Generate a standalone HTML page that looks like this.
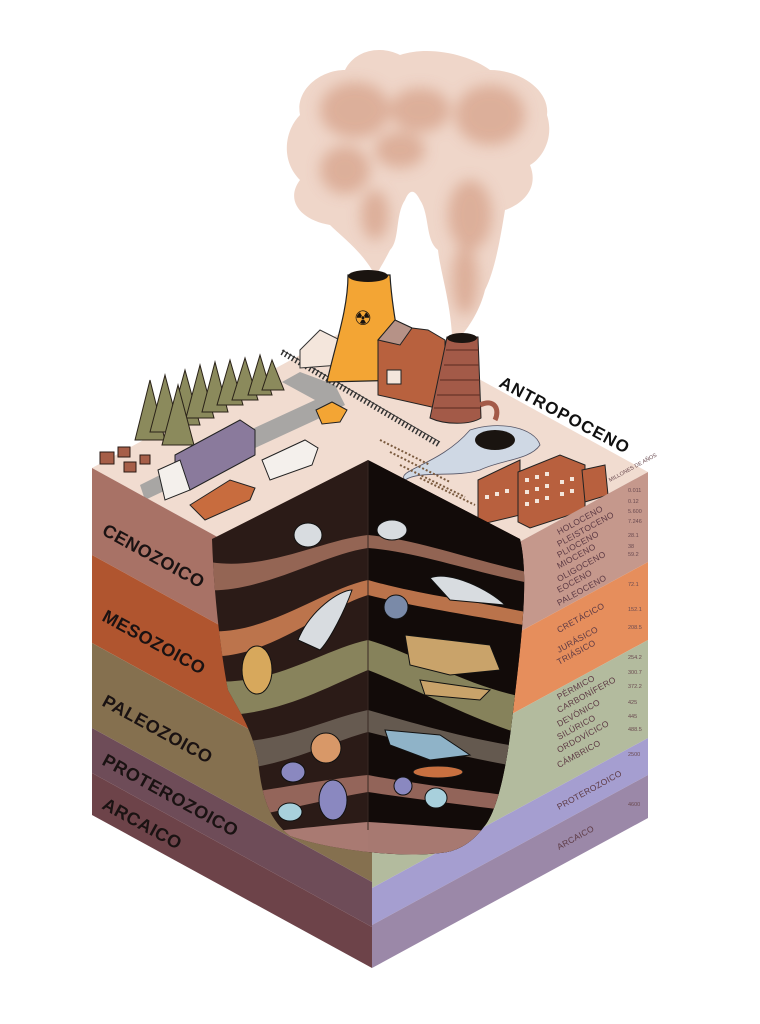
<!DOCTYPE html>
<html><head><meta charset="utf-8"><style>
html,body{margin:0;padding:0;background:#fff}
svg{display:block}
text{font-family:"Liberation Sans",sans-serif}
.L{font-weight:bold;font-size:18px;fill:#1a1212;letter-spacing:0.5px}
.R{font-size:8.5px;fill:#5d3a44;letter-spacing:0.3px}
.N{font-size:5.5px;fill:#6a4a50}
</style></head><body>
<svg width="760" height="1024" viewBox="0 0 760 1024" xmlns="http://www.w3.org/2000/svg">
<defs>
<clipPath id="hole"><path d="M212,539 L368,460 L520,539 C530,580 520,650 512,720 C505,780 495,815 483,828 C470,845 455,852 440,853 C400,858 330,850 290,836 C270,820 262,800 258,760 C252,730 240,712 228,690 C222,660 214,600 212,539 Z"/></clipPath>
<clipPath id="smk"><path d="M372,270 C360,250 340,235 330,225 C300,220 285,200 300,180 C280,160 285,130 300,115 C295,90 320,70 345,70 C355,50 380,45 400,55 C430,45 470,55 490,70 C520,70 550,90 547,115 C555,140 540,160 530,165 C540,190 520,205 505,210 C500,240 495,270 485,290 C480,310 470,325 462,335 L452,335 C450,300 440,270 438,250 C425,240 430,215 420,200 C415,190 410,188 405,200 C395,215 400,240 390,250 C385,260 380,268 378,272 Z"/></clipPath>
<filter id="bl" x="-20%" y="-20%" width="140%" height="140%"><feGaussianBlur stdDeviation="7"/></filter>
</defs>

<!-- smoke -->
<path d="M372,270 C360,250 340,235 330,225 C300,220 285,200 300,180 C280,160 285,130 300,115 C295,90 320,70 345,70 C355,50 380,45 400,55 C430,45 470,55 490,70 C520,70 550,90 547,115 C555,140 540,160 530,165 C540,190 520,205 505,210 C500,240 495,270 485,290 C480,310 470,325 462,335 L452,335 C450,300 440,270 438,250 C425,240 430,215 420,200 C415,190 410,188 405,200 C395,215 400,240 390,250 C385,260 380,268 378,272 Z" fill="#efd6c9"/>
<g clip-path="url(#smk)">
<g fill="#d9a892" filter="url(#bl)" opacity="0.85">
<ellipse cx="355" cy="110" rx="35" ry="28"/><ellipse cx="420" cy="110" rx="30" ry="22"/>
<ellipse cx="490" cy="115" rx="35" ry="30"/><ellipse cx="345" cy="170" rx="25" ry="24"/>
<ellipse cx="470" cy="215" rx="22" ry="35"/><ellipse cx="465" cy="280" rx="13" ry="35"/>
<ellipse cx="375" cy="215" rx="14" ry="25"/><ellipse cx="400" cy="150" rx="25" ry="18"/>
</g></g>

<!-- top face -->
<polygon points="92,468 368,318 648,472 372,622" fill="#f1dcd0"/>
<!-- road -->
<path d="M145,500 L255,448 L320,418 L345,405 L335,385 L300,372 L282,382 L315,400 L250,430 L140,485 Z" fill="#a8a6a4"/>
<path d="M150,510 L270,450 L350,410" stroke="#f1dcd0" stroke-width="2" fill="none" stroke-dasharray="6 8"/>
<!-- trees -->
<g fill="#8b8a5c" stroke="#2a2218" stroke-width="1">
<polygon points="150,380 135,440 165,440"/><polygon points="165,375 150,432 180,432"/>
<polygon points="185,370 170,425 200,425"/><polygon points="200,365 186,418 214,418"/>
<polygon points="215,362 202,412 228,412"/><polygon points="230,360 217,405 243,405"/>
<polygon points="245,358 232,400 258,400"/><polygon points="260,355 248,395 272,395"/>
<polygon points="272,360 262,390 284,390"/><polygon points="178,385 162,445 194,445"/>
</g>
<g fill="#a65e48" stroke="#2a1a14" stroke-width="1">
<rect x="100" y="452" width="14" height="12"/><rect x="118" y="447" width="12" height="10"/><rect x="124" y="462" width="12" height="10"/><rect x="140" y="455" width="10" height="9"/>
</g>
<!-- truck -->
<polygon points="175,455 240,420 255,430 255,455 190,490 175,480" fill="#8a7a9c" stroke="#222" stroke-width="1"/>
<polygon points="158,470 180,460 190,490 165,500" fill="#f4f0ec" stroke="#222" stroke-width="1"/>
<!-- cars -->
<polygon points="190,505 230,480 255,488 250,500 205,520" fill="#c86c3e" stroke="#222" stroke-width="1"/>
<polygon points="262,460 305,440 318,448 312,465 270,480" fill="#f4f0ec" stroke="#222" stroke-width="1"/>
<polygon points="316,410 332,402 347,410 340,422 322,424" fill="#f3a534" stroke="#222" stroke-width="1"/>
<!-- fence -->
<path d="M282,352 L440,445" stroke="#333" stroke-width="6" stroke-dasharray="1.5 2.5" fill="none"/>
<path d="M282,350 L440,442" stroke="#333" stroke-width="1" fill="none"/>
<!-- house -->
<polygon points="300,350 320,330 340,340 340,365 300,368" fill="#f4e6dc" stroke="#333"/>
<!-- cooling tower -->
<path d="M348,275 L390,275 C392,310 400,345 405,380 L327,382 C335,345 348,310 348,275 Z" fill="#f3a534" stroke="#222" stroke-width="1.2"/>
<ellipse cx="368" cy="276" rx="20" ry="6" fill="#1a1410"/>
<text x="354" y="325" font-size="20" fill="#1a1410">☢</text>
<!-- factory -->
<polygon points="378,340 395,320 412,328 428,330 445,340 445,410 378,395" fill="#b8613e" stroke="#222"/>
<polygon points="378,340 395,320 412,328 400,345" fill="#b69287" stroke="#222"/>
<rect x="387" y="370" width="14" height="14" fill="#f4e6dc" stroke="#222"/>
<!-- chimney -->
<path d="M447,337 L478,337 L481,418 C470,425 445,425 430,418 Z" fill="#a35a48" stroke="#222"/>
<ellipse cx="462" cy="338" rx="15" ry="5" fill="#1a1410"/>
<g stroke="#5a2a20" stroke-width="1"><line x1="446" y1="350" x2="479" y2="350"/><line x1="444" y1="365" x2="479" y2="365"/><line x1="440" y1="380" x2="480" y2="380"/><line x1="437" y1="395" x2="480" y2="395"/><line x1="434" y1="408" x2="481" y2="408"/></g>
<path d="M480,405 C495,398 500,410 495,420" stroke="#a35a48" stroke-width="5" fill="none"/>
<!-- pond -->
<path d="M470,430 C500,420 535,428 540,445 C530,460 500,460 480,470 C455,478 420,470 405,480 C395,470 440,465 470,430Z" fill="#cfd8e4" stroke="#556" stroke-width="0.8"/>
<ellipse cx="495" cy="440" rx="20" ry="10" fill="#1a1410"/>
<!-- fields -->
<g stroke="#7a5a3e" stroke-width="2" stroke-dasharray="2 2"><line x1="380" y1="440" x2="430" y2="465"/><line x1="390" y1="452" x2="450" y2="482"/><line x1="400" y1="465" x2="465" y2="497"/><line x1="420" y1="478" x2="475" y2="505"/></g>
<!-- buildings -->
<polygon points="478,480 520,460 520,515 478,525" fill="#b8603e" stroke="#222"/>
<polygon points="518,472 560,455 585,465 585,510 530,528 518,522" fill="#b8603e" stroke="#222"/>
<polygon points="582,470 605,465 608,495 585,502" fill="#b8603e" stroke="#222"/>
<g fill="#f4e6dc"><rect x="525" y="478" width="4" height="4"/><rect x="535" y="475" width="4" height="4"/><rect x="545" y="472" width="4" height="4"/><rect x="525" y="490" width="4" height="4"/><rect x="535" y="487" width="4" height="4"/><rect x="545" y="484" width="4" height="4"/><rect x="525" y="502" width="4" height="4"/><rect x="535" y="499" width="4" height="4"/><rect x="545" y="496" width="4" height="4"/><rect x="560" y="480" width="4" height="4"/><rect x="570" y="477" width="4" height="4"/><rect x="560" y="492" width="4" height="4"/><rect x="570" y="489" width="4" height="4"/><rect x="485" y="495" width="4" height="4"/><rect x="495" y="492" width="4" height="4"/><rect x="505" y="489" width="4" height="4"/></g>
<text x="498" y="386" transform="rotate(28 498 386)" font-weight="bold" font-size="17" fill="#111" letter-spacing="1">ANTROPOCENO</text>

<!-- left face -->
<polygon points="92,468 372,622 372,709 92,555" fill="#a87266"/>
<polygon points="92,555 372,709 372,797 92,643" fill="#b0552f"/>
<polygon points="92,643 372,797 372,882 92,728" fill="#85704f"/>
<polygon points="92,728 372,882 372,927 92,773" fill="#6e4c58"/>
<polygon points="92,773 372,927 372,968 92,815" fill="#6d4349"/>
<!-- right face -->
<polygon points="372,622 648,472 648,562 372,712" fill="#c5988c"/>
<polygon points="372,712 648,562 648,640 372,790" fill="#e68e5c"/>
<polygon points="372,790 648,640 648,738 372,888" fill="#b3bb9e"/>
<polygon points="372,888 648,738 648,775 372,925" fill="#a59ed0"/>
<polygon points="372,925 648,775 648,818 372,968" fill="#9b88a8"/>

<!-- hole -->
<g clip-path="url(#hole)">
<rect x="200" y="450" width="340" height="420" fill="#2b1b17"/>
<polygon points="368,460 540,540 540,870 368,870" fill="#120b09"/>
<g opacity="0.95">
<path d="M200,560 C260,575 320,540 368,535 C420,540 470,560 540,575 L540,585 C470,572 420,552 368,548 C320,555 260,595 200,590Z" fill="#9a6a58"/>
<path d="M200,630 C260,640 320,590 368,580 C420,595 470,600 540,615 L540,628 C470,615 420,608 368,595 C320,610 260,665 200,655Z" fill="#c57a50"/>
<path d="M200,680 C270,690 320,650 368,640 C420,655 470,690 540,700 L540,740 C470,720 420,690 368,670 C320,690 270,720 200,715Z" fill="#8e8a60"/>
<path d="M200,740 C270,750 320,720 368,710 C420,725 470,740 540,750 L540,770 C470,760 420,745 368,732 C320,745 270,775 200,770Z" fill="#6a5e54"/>
<path d="M200,800 C270,790 320,780 368,775 C420,785 470,790 540,800 L540,815 C470,805 420,800 368,792 C320,800 270,815 200,825Z" fill="#9a6a5e"/>
<path d="M200,840 C280,830 330,825 368,822 C420,825 470,830 540,835 L540,870 L200,870Z" fill="#b08078"/>
</g>
<line x1="368" y1="460" x2="368" y2="830" stroke="#3a2a24" stroke-width="1"/>
<g fill="#d8dce0" stroke="#111" stroke-width="1">
<ellipse cx="308" cy="535" rx="14" ry="12"/><ellipse cx="392" cy="530" rx="15" ry="10"/>
<path d="M430,578 C450,570 490,590 505,605 L450,600 Z"/>
<path d="M298,640 C310,610 340,590 352,590 C345,610 330,640 320,650 Z"/>
<path d="M385,730 L440,735 L470,755 L430,760 L390,745Z" fill="#8fb3c8"/>
</g>
<path d="M405,635 L490,645 L500,670 L450,675 L410,665Z" fill="#c9a36a" stroke="#111"/>
<path d="M420,680 L490,690 L480,700 L425,695Z" fill="#c9a36a" stroke="#111"/>
<ellipse cx="257" cy="670" rx="15" ry="24" fill="#d7a85c" stroke="#111"/>
<circle cx="396" cy="607" r="12" fill="#7a8aa8" stroke="#111"/>
<circle cx="326" cy="748" r="15" fill="#d89868" stroke="#111"/>
<ellipse cx="333" cy="800" rx="14" ry="20" fill="#8a88c0" stroke="#111"/>
<ellipse cx="293" cy="772" rx="12" ry="10" fill="#8a88c0" stroke="#111"/>
<ellipse cx="290" cy="812" rx="12" ry="9" fill="#a8d0dc" stroke="#111"/>
<ellipse cx="436" cy="798" rx="11" ry="10" fill="#a8d0dc" stroke="#111"/>
<ellipse cx="438" cy="772" rx="25" ry="6" fill="#c87040" stroke="#111"/>
<circle cx="403" cy="786" r="9" fill="#8a88c0" stroke="#111"/>
</g>

<!-- left labels -->
<text class="L" x="101" y="534" transform="rotate(28.8 101 534)">CENOZOICO</text>
<text class="L" x="101" y="620" transform="rotate(28.8 101 620)">MESOZOICO</text>
<text class="L" x="101" y="705" transform="rotate(28.8 101 705)">PALEOZOICO</text>
<text class="L" x="101" y="764" transform="rotate(28.8 101 764)">PROTEROZOICO</text>
<text class="L" x="101" y="808" transform="rotate(28.8 101 808)">ARCAICO</text>

<!-- right labels -->
<g class="R">
<text x="559" y="535" transform="rotate(-28.8 559 535)">HOLOCENO</text>
<text x="559" y="547" transform="rotate(-28.8 559 547)">PLEISTOCENO</text>
<text x="559" y="558" transform="rotate(-28.8 559 558)">PLIOCENO</text>
<text x="559" y="569" transform="rotate(-28.8 559 569)">MIOCENO</text>
<text x="559" y="582" transform="rotate(-28.8 559 582)">OLIGOCENO</text>
<text x="559" y="593" transform="rotate(-28.8 559 593)">EOCENO</text>
<text x="559" y="606" transform="rotate(-28.8 559 606)">PALEOCENO</text>
<text x="559" y="633" transform="rotate(-28.8 559 633)">CRETÁCICO</text>
<text x="559" y="653" transform="rotate(-28.8 559 653)">JURÁSICO</text>
<text x="559" y="665" transform="rotate(-28.8 559 665)">TRIÁSICO</text>
<text x="559" y="700" transform="rotate(-28.8 559 700)">PÉRMICO</text>
<text x="559" y="713" transform="rotate(-28.8 559 713)">CARBONÍFERO</text>
<text x="559" y="727" transform="rotate(-28.8 559 727)">DEVÓNICO</text>
<text x="559" y="740" transform="rotate(-28.8 559 740)">SILÚRICO</text>
<text x="559" y="753" transform="rotate(-28.8 559 753)">ORDOVÍCICO</text>
<text x="559" y="768" transform="rotate(-28.8 559 768)">CÁMBRICO</text>
<text x="559" y="810" transform="rotate(-28.8 559 810)">PROTEROZOICO</text>
<text x="559" y="850" transform="rotate(-28.8 559 850)">ARCAICO</text>
</g>
<g class="N">
<text x="610" y="482" transform="rotate(-28.8 610 482)">MILLONES DE AÑOS</text>
<text x="628" y="492">0.011</text><text x="628" y="503">0.12</text><text x="628" y="513">5.600</text><text x="628" y="523">7.246</text><text x="628" y="537">28.1</text><text x="628" y="548">38</text><text x="628" y="556">59.2</text>
<text x="628" y="586">72.1</text><text x="628" y="611">152.1</text><text x="628" y="629">208.5</text>
<text x="628" y="659">254.2</text><text x="628" y="674">300.7</text><text x="628" y="688">372.2</text><text x="628" y="704">425</text><text x="628" y="718">445</text><text x="628" y="731">488.5</text>
<text x="628" y="756">2500</text><text x="628" y="806">4600</text>
</g>
</svg>
</body></html>
